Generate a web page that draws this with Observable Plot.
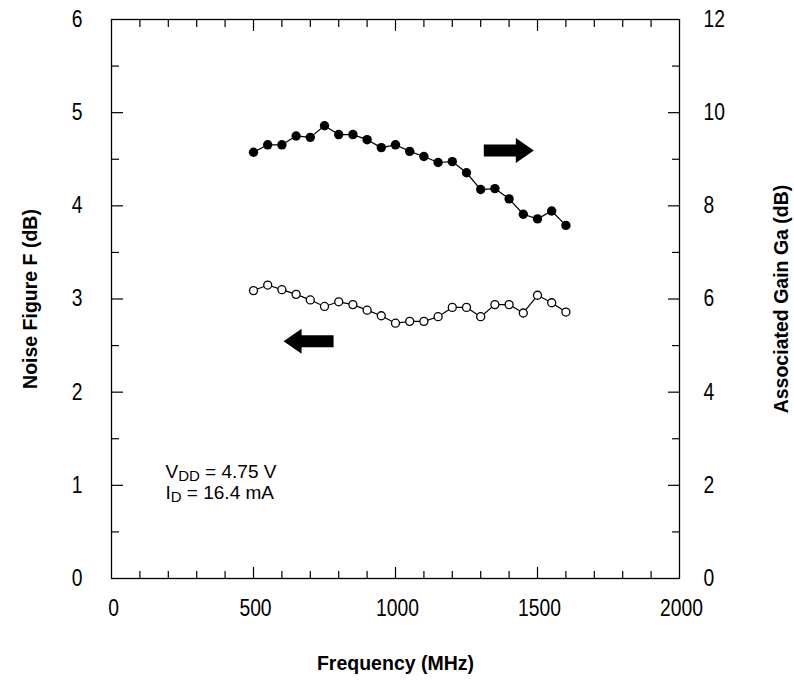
<!DOCTYPE html>
<html>
<head>
<meta charset="utf-8">
<script src="https://cdn.jsdelivr.net/npm/d3@7"></script>
<script src="https://cdn.jsdelivr.net/npm/@observablehq/plot@0.6"></script>
<style>
  html, body { margin: 0; padding: 0; background: #fff; }
  #chart svg { display: block; }
</style>
</head>
<body>
<div id="chart"></div>
<script>
// ---- Data ----
const frequency = [500, 550, 600, 650, 700, 750, 800, 850, 900, 950, 1000, 1050,
                   1100, 1150, 1200, 1250, 1300, 1350, 1400, 1450, 1500, 1550, 1600];
const noiseFigure = [3.09, 3.15, 3.10, 3.05, 2.99, 2.92, 2.97, 2.94, 2.88, 2.82, 2.74, 2.76,
                     2.76, 2.81, 2.91, 2.91, 2.81, 2.94, 2.94, 2.85, 3.04, 2.96, 2.86];
const associatedGain = [9.15, 9.31, 9.31, 9.50, 9.47, 9.72, 9.53, 9.53, 9.42, 9.25, 9.31, 9.17,
                        9.06, 8.93, 8.95, 8.71, 8.35, 8.37, 8.15, 7.82, 7.72, 7.89, 7.58];

// ---- Tick values / labels ----
const xLabelTicks = [0, 500, 1000, 1500, 2000];
const xMajorTicks = [500, 1000, 1500];
const xMinorTicks = [100, 200, 300, 400, 600, 700, 800, 900, 1100, 1200, 1300, 1400, 1600, 1700, 1800, 1900];
const nfTicks = [0, 1, 2, 3, 4, 5, 6];
const nfMajorInner = [1, 2, 3, 4, 5];
const nfMinorTicks = [0.5, 1.5, 2.5, 3.5, 4.5, 5.5];
const gainMajorInner = [2, 4, 6, 8, 10];
const gainMinorTicks = [1, 3, 5, 7, 9, 11];
const gainToNF = 0.5; // right axis 0–12 dB shares the frame with left axis 0–6 dB

// ---- Annotations ----
const arrowX = [1399, 694];
const arrowY = [4.595, 2.546];
const arrowRotate = [90, -90];
const noteX = [190, 190];
const noteY = [1.083, 0.858];
const noteMain = ["V", "I"];
const noteSub = ["DD", "D"];
const noteRest = [" = 4.75 V", " = 16.4 mA"];

const titleLeft = "Noise Figure F (dB)";
const titleRight = "Associated Gain Ga (dB)";
const titleBottom = "Frequency (MHz)";

// ---- Build tables ----
const series = frequency.map((f, i) => ({f, nf: noiseFigure[i], g: associatedGain[i]}));
const arrows = arrowX.map((x, i) => ({x, y: arrowY[i], r: arrowRotate[i]}));
const notes = noteX.map((x, i) => ({x, y: noteY[i], text: noteMain[i] + noteSub[i] + noteRest[i]}));

const tickShape = {draw(context, l) { context.moveTo(0, 0); context.lineTo(0, -l); }};
const blockArrow = {
  draw(context, l) {
    const bw = 6, hw = 12.5, hl = 18;
    context.moveTo(-bw, 0);
    context.lineTo(-bw, -(l - hl));
    context.lineTo(-hw, -(l - hl));
    context.lineTo(0, -l);
    context.lineTo(hw, -(l - hl));
    context.lineTo(bw, -(l - hl));
    context.lineTo(bw, 0);
    context.closePath();
  }
};

const tickFont = "'Liberation Sans', Arial, sans-serif";
const tickFontSize = 23;
const majorLen = 11.5, minorLen = 7.5;
const tk = (data, opts, len) => Plot.vector(data, {anchor: "start", length: len, shape: tickShape,
  stroke: "black", strokeWidth: 1.2, strokeLinecap: "butt", ...opts});

const chart = Plot.plot({
  width: 794,
  height: 686,
  marginLeft: 111,
  marginRight: 115,
  marginTop: 19,
  marginBottom: 108,
  style: {fontFamily: "'Liberation Sans', Arial, sans-serif", fontSize: "19px", background: "white", color: "black"},
  x: {domain: [0, 2000]},
  y: {domain: [0, 6]},
  marks: [
    // inward ticks
    tk(xMajorTicks, {x: d => d, y: 0, rotate: 0}, majorLen),
    tk(xMinorTicks, {x: d => d, y: 0, rotate: 0}, minorLen),
    tk(xMajorTicks, {x: d => d, y: 6, rotate: 180}, majorLen),
    tk(xMinorTicks, {x: d => d, y: 6, rotate: 180}, minorLen),
    tk(nfMajorInner, {x: 0, y: d => d, rotate: 90}, majorLen),
    tk(nfMinorTicks, {x: 0, y: d => d, rotate: 90}, minorLen),
    tk(gainMajorInner, {x: 2000, y: d => d * gainToNF, rotate: -90}, majorLen),
    tk(gainMinorTicks, {x: 2000, y: d => d * gainToNF, rotate: -90}, minorLen),
    // tick labels
    Plot.axisX({ticks: xLabelTicks, tickSize: 0, tickPadding: 21, tickFormat: d => String(d), label: null,
      fontFamily: tickFont, fontSize: tickFontSize, dx: 2}),
    Plot.axisY({anchor: "left", ticks: nfTicks, tickSize: 0, tickPadding: 29, tickFormat: d => String(d), label: null,
      fontFamily: tickFont, fontSize: tickFontSize}),
    Plot.axisY({anchor: "right", ticks: nfTicks, tickSize: 0, tickPadding: 24, tickFormat: d => String(d / gainToNF), label: null,
      fontFamily: tickFont, fontSize: tickFontSize}),
    Plot.frame({stroke: "black", strokeWidth: 1.3}),
    // series
    Plot.line(series, {x: "f", y: d => d.g * gainToNF, stroke: "black", strokeWidth: 1.2}),
    Plot.dot(series, {x: "f", y: d => d.g * gainToNF, r: 4.7, fill: "black", stroke: "none"}),
    Plot.line(series, {x: "f", y: "nf", stroke: "black", strokeWidth: 1.2}),
    Plot.dot(series, {x: "f", y: "nf", r: 4, fill: "white", stroke: "black", strokeWidth: 1.3}),
    // arrows
    Plot.vector(arrows, {x: "x", y: "y", rotate: "r", length: 50, anchor: "middle", shape: blockArrow,
      fill: "black", stroke: "none"}),
    // notes
    Plot.text(notes, {x: "x", y: "y", text: "text", textAnchor: "start", lineAnchor: "bottom", fontSize: 19}),
    // axis titles
    Plot.text([titleLeft], {frameAnchor: "left", dx: -81, rotate: -90, textAnchor: "middle", lineAnchor: "middle",
      fontWeight: "bold", fontSize: 19.5}),
    Plot.text([titleRight], {frameAnchor: "right", dx: 102, rotate: -90, textAnchor: "middle", lineAnchor: "middle",
      fontWeight: "bold", fontSize: 19.5}),
    Plot.text([titleBottom], {frameAnchor: "bottom", dy: 85, textAnchor: "middle", lineAnchor: "middle",
      fontWeight: "bold", fontSize: 19.5})
  ]
});

// subscripts in the notes
const NS = "http://www.w3.org/2000/svg";
chart.querySelectorAll("text").forEach(t => {
  const i = notes.findIndex(n => n.text === t.textContent);
  if (i < 0) return;
  t.textContent = "";
  const a = document.createElementNS(NS, "tspan"); a.textContent = noteMain[i];
  const b = document.createElementNS(NS, "tspan"); b.textContent = noteSub[i];
  b.setAttribute("font-size", "15"); b.setAttribute("dy", "3");
  const c = document.createElementNS(NS, "tspan"); c.textContent = noteRest[i]; c.setAttribute("dy", "-3");
  t.append(a, b, c);
});

// condensed look for tick labels (narrow grotesque in the reference)
chart.querySelectorAll('g[aria-label$="tick label"] text').forEach(t => {
  const tr = t.getAttribute("transform");
  if (tr) t.setAttribute("transform", `${tr} scale(0.84,1)`);
});

document.getElementById("chart").append(chart);
</script>
</body>
</html>
